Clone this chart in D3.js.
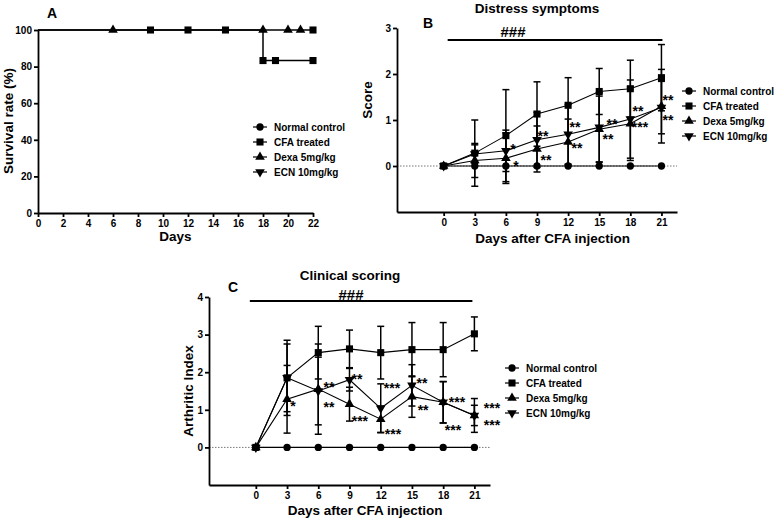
<!DOCTYPE html>
<html><head><meta charset="utf-8">
<script src="https://cdn.jsdelivr.net/npm/d3@7/dist/d3.min.js"></script>
<style>
body{margin:0;background:#fff;}
svg{font-family:"Liberation Sans",Arial,sans-serif;font-weight:bold;}
.axis path,.axis line{stroke:#000;stroke-width:1.8;}
.axis text{font-size:10px;font-weight:bold;fill:#000;}
</style></head>
<body><svg id="c" width="777" height="520"></svg>
<script>
// ---------- DATA ----------
const seriesNames = ["Normal control","CFA treated","Dexa 5mg/kg","ECN 10mg/kg"];
const seriesSymbols = ["circle","square","triangle","triangleDown"];

// Panel A: survival
const aTicksX = [0,2,4,6,8,10,12,14,16,18,20,22];
const aTicksY = [0,20,40,60,80,100];
const aNormalDays = [0,22];
const aNormalVals = [100,100];
const aCFADays = [0,18,18,22];
const aCFAVals = [100,100,83.3,83.3];
const aCFACensorDays = [9,12,15,22,18,19,22];
const aCFACensorVals = [100,100,100,100,83.3,83.3,83.3];
const aDexaCensorDays = [6,18,20,21];
const aDexaCensorVals = [100,100,100,100];

// Panel B: distress symptoms
const daysBC = [0,3,6,9,12,15,18,21];
const yTicksB = [0,1,2,3];
const bNormal = [0,0,0,0,0,0,0,0];
const bCFA = [0,0.28,0.66,1.13,1.32,1.62,1.68,1.92];
const bCFASd = [0,0.72,1.0,0.7,0.6,0.5,0.62,0.72];
const bDexa = [0,0.12,0.17,0.37,0.52,0.8,0.92,1.3];
const bDexaSd = [0,0.37,0.55,0.5,0.5,0.72,0.8,0.8];
const bECN = [0,0.26,0.33,0.57,0.69,0.84,1.02,1.27];
const bECNSd = [0,0.2,0.45,0.6,0.65,0.75,0.85,0.57];
const bStarDays = [6.69,6.98,9.58,9.87,12.66,12.86,16.23,15.85,18.74,18.93,21.63,21.63];
const bStarVals = [0.435,0.065,0.72,0.2,0.91,0.46,0.98,0.65,1.26,0.91,1.5,1.07];
const bStarText = ["*","*","**","**","**","**","**","**","**","***","**","**"];

// Panel C: clinical scoring
const yTicksC = [0,1,2,3,4];
const cNormal = [0,0,0,0,0,0,0,0];
const cCFA = [0,1.85,2.52,2.62,2.52,2.6,2.6,3.02];
const cCFASd = [0,1.0,0.7,0.5,0.7,0.72,0.72,0.45];
const cDexa = [0,1.28,1.55,1.15,0.75,1.35,1.2,0.85];
const cDexaSd = [0,0.9,1.2,0.45,0.35,0.55,0.55,0.27];
const cECN = [0,1.85,1.5,1.8,1.04,1.65,1.2,0.85];
const cECNSd = [0,0.9,0.9,0.3,0.65,0.55,0.55,0.45];
const cStarDays = [3.57,7.03,7.03,9.72,10.0,13.08,13.18,15.97,16.07,19.33,18.95,22.69,22.69];
const cStarVals = [1.18,1.69,1.15,1.9,0.78,1.66,0.44,1.79,1.07,1.29,0.54,1.13,0.68];
const cStarText = ["*","**","**","**","***","***","***","**","**","***","***","***","***"];

// ---------- DRAWING ----------
const svg = d3.select("#c");
const FONT_T = 13.5;
const fmt = d3.format("d");

function sym(kind){
  if(kind==="circle") return d3.symbol().type(d3.symbolCircle).size(42)();
  if(kind==="square") return d3.symbol().type(d3.symbolSquare).size(50)();
  return d3.symbol().type(d3.symbolTriangle).size(40)();
}
function marker(g,kind,x,y){
  g.append("path").attr("d",sym(kind))
   .attr("transform",`translate(${x},${y})`+(kind==="triangleDown"?" rotate(180)":""))
   .attr("fill","#000");
}
function legend(g,x0,y0,dy){
  seriesNames.forEach((n,i)=>{
    const y=y0+i*dy;
    g.append("line").attr("x1",x0-7).attr("x2",x0+7).attr("y1",y).attr("y2",y).attr("stroke","#000").attr("stroke-width",1.2);
    marker(g,seriesSymbols[i],x0,y);
    g.append("text").attr("x",x0+14).attr("y",y+3.6).attr("font-size",10).text(n);
  });
}
function styleAxis(sel){
  sel.attr("class","axis");
  sel.selectAll(".tick line").attr("stroke-width",1.5);
}

// ===== Panel A =====
{
  const g = svg.append("g");
  const x = d3.scaleLinear().domain([0,22]).range([38,313]);
  const y = d3.scaleLinear().domain([0,100]).range([213,30]);
  g.append("g").attr("transform","translate(0,213)")
    .call(d3.axisBottom(x).tickValues(aTicksX).tickFormat(fmt).tickSize(4).tickSizeOuter(0).tickPadding(3)).call(styleAxis);
  g.append("g").attr("transform","translate(38,0)")
    .call(d3.axisLeft(y).tickValues(aTicksY).tickFormat(fmt).tickSize(4).tickSizeOuter(0).tickPadding(2)).call(styleAxis);
  const line = d3.line().x(d=>x(d[0])).y(d=>y(d[1]));
  g.append("path").attr("d",line(aNormalDays.map((d,i)=>[d,aNormalVals[i]]))).attr("fill","none").attr("stroke","#000").attr("stroke-width",1.5);
  g.append("path").attr("d",line(aCFADays.map((d,i)=>[d,aCFAVals[i]]))).attr("fill","none").attr("stroke","#000").attr("stroke-width",1.5);
  aCFACensorDays.forEach((d,i)=>marker(g,"square",x(d),y(aCFACensorVals[i])));
  aDexaCensorDays.forEach((d,i)=>marker(g,"triangle",x(d),y(aDexaCensorVals[i])));
  g.append("text").attr("x",47).attr("y",18).attr("font-size",14).text("A");
  g.append("text").attr("x",(38+313)/2).attr("y",241).attr("text-anchor","middle").attr("font-size",FONT_T).text("Days");
  g.append("text").attr("transform","translate(13,121) rotate(-90)").attr("text-anchor","middle").attr("font-size",FONT_T).text("Survival rate (%)");
  legend(g,260,127,15);
}

function panel(opt){
  const g = svg.append("g");
  const x = d3.scaleLinear().domain([-4.5,22.5]).range(opt.xr);
  const y = d3.scaleLinear().domain(opt.yd).range(opt.yr);
  // zero dotted line
  g.append("line").attr("x1",opt.xr[0]).attr("x2",opt.xr[1]).attr("y1",y(0)).attr("y2",y(0))
    .attr("stroke","#777").attr("stroke-width",1).attr("stroke-dasharray","1.5,1.5");
  g.append("g").attr("transform",`translate(0,${opt.yr[0]})`)
    .call(d3.axisBottom(x).tickValues(daysBC).tickFormat(fmt).tickSize(4).tickSizeOuter(0).tickPadding(3)).call(styleAxis);
  g.append("g").attr("transform",`translate(${opt.xr[0]},0)`)
    .call(d3.axisLeft(y).tickValues(opt.yt).tickFormat(fmt).tickSize(4).tickSizeOuter(0).tickPadding(2)).call(styleAxis);
  const line = d3.line().x((d,i)=>x(daysBC[i])).y(d=>y(d));
  const cap=3.5;
  const ser = opt.series;
  // error bars
  ser.forEach(s=>{
    if(!s.sd) return;
    s.vals.forEach((v,i)=>{
      const sd=s.sd[i]; if(!sd) return;
      const xx=x(daysBC[i]);
      g.append("line").attr("x1",xx).attr("x2",xx).attr("y1",y(v-sd)).attr("y2",y(v+sd)).attr("stroke","#000").attr("stroke-width",1.5);
      [v-sd,v+sd].forEach(e=>g.append("line").attr("x1",xx-cap).attr("x2",xx+cap).attr("y1",y(e)).attr("y2",y(e)).attr("stroke","#000").attr("stroke-width",1.5));
    });
  });
  ser.forEach(s=>{
    g.append("path").attr("d",line(s.vals)).attr("fill","none").attr("stroke","#000").attr("stroke-width",1.1);
  });
  ser.forEach(s=>{
    s.vals.forEach((v,i)=>marker(g,s.sym,x(daysBC[i]),y(v)));
  });
  // stars
  opt.stars.d.forEach((d,i)=>{
    g.append("text").attr("x",x(d)).attr("y",y(opt.stars.v[i])+8.2).attr("text-anchor","middle")
      .attr("font-size",14).text(opt.stars.t[i]);
  });
  // significance bar
  g.append("line").attr("x1",x(0)+opt.barDx[0]).attr("x2",x(21)+opt.barDx[1]).attr("y1",opt.barY).attr("y2",opt.barY).attr("stroke","#000").attr("stroke-width",2);
  g.append("text").attr("x",opt.hashX).attr("y",opt.hashY).attr("text-anchor","middle").attr("font-size",15).text("###");
  g.append("text").attr("x",opt.letter[0]).attr("y",opt.letter[1]).attr("font-size",14).text(opt.letter[2]);
  g.append("text").attr("x",opt.title[0]).attr("y",opt.title[1]).attr("text-anchor","middle").attr("font-size",FONT_T).text(opt.title[2]);
  g.append("text").attr("x",(x(0)+x(21))/2).attr("y",opt.xlabY).attr("text-anchor","middle").attr("font-size",FONT_T).text("Days after CFA injection");
  g.append("text").attr("transform",`translate(${opt.ylab[0]},${opt.ylab[1]}) rotate(-90)`).attr("text-anchor","middle").attr("font-size",FONT_T).text(opt.ylab[2]);
  legend(g,opt.leg[0],opt.leg[1],15);
}

panel({
  xr:[397,677], yd:[-1,3], yr:[212,28], yt:yTicksB,
  series:[
    {vals:bCFA,sd:bCFASd,sym:"square"},
    {vals:bDexa,sd:bDexaSd,sym:"triangle"},
    {vals:bECN,sd:bECNSd,sym:"triangleDown"},
    {vals:bNormal,sd:null,sym:"circle"}
  ],
  stars:{d:bStarDays,v:bStarVals,t:bStarText},
  barY:40, barDx:[4,1], hashX:513, hashY:37,
  letter:[423,28,"B"], title:[537,13,"Distress symptoms"],
  xlabY:243, ylab:[372,100,"Score"], leg:[689,91]
});

panel({
  xr:[209,490], yd:[-1,4], yr:[485,297], yt:yTicksC,
  series:[
    {vals:cCFA,sd:cCFASd,sym:"square"},
    {vals:cDexa,sd:cDexaSd,sym:"triangle"},
    {vals:cECN,sd:cECNSd,sym:"triangleDown"},
    {vals:cNormal,sd:null,sym:"circle"}
  ],
  stars:{d:cStarDays,v:cStarVals,t:cStarText},
  barY:301, barDx:[-6,-2], hashX:351, hashY:300,
  letter:[228,292,"C"], title:[350,280,"Clinical scoring"],
  xlabY:515, ylab:[193,391,"Arthritic Index"], leg:[512,368]
});
</script></body></html>
